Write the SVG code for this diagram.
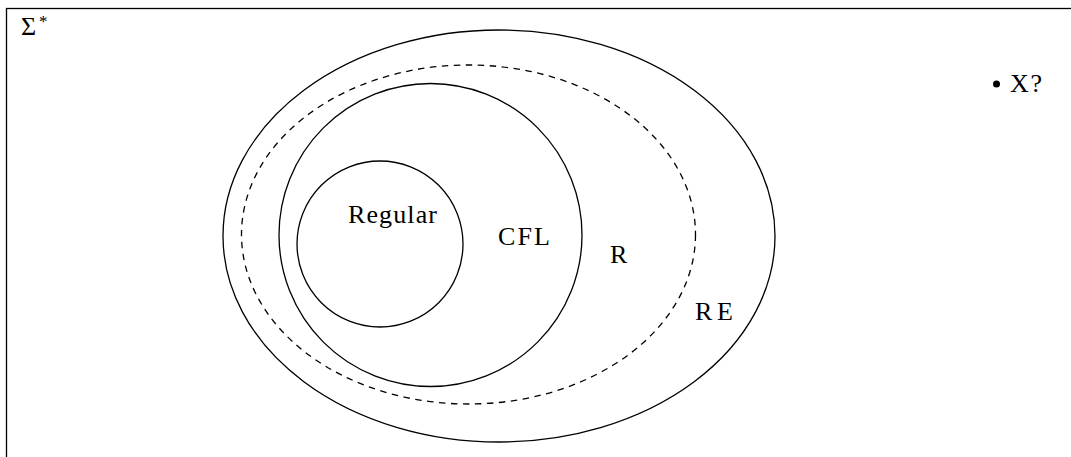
<svg xmlns="http://www.w3.org/2000/svg" width="1071" height="457" viewBox="0 0 1071 457">
<style>
.ln{fill:none;stroke:#000;stroke-width:1.3}
.dash{stroke-dasharray:6.5 5.5}
.t{font-family:"Liberation Serif","DejaVu Serif",serif;font-size:26px;fill:#000}
</style>
<rect width="1071" height="457" fill="#fff"/>
<rect id="universe" class="ln" x="6.5" y="8.5" width="1080" height="470"/>
<g id="sigma-label"><text class="t" x="21" y="35" textLength="17">Σ</text><text class="t" x="39" y="27" style="font-size:17px">*</text></g>
<g id="RE"><ellipse class="ln" cx="499" cy="236" rx="276" ry="206"/><text class="t" x="695" y="320" textLength="38">RE</text></g>
<g id="R"><ellipse class="ln dash" cx="468.5" cy="234.5" rx="227" ry="169.5"/><text class="t" x="610" y="263" textLength="19">R</text></g>
<g id="CFL"><circle class="ln" cx="430.5" cy="235" r="151.5"/><text class="t" x="498" y="245" textLength="52">CFL</text></g>
<g id="Regular"><circle class="ln" cx="380" cy="244" r="83"/><text class="t" x="348" y="223" textLength="89">Regular</text></g>
<g id="X"><circle cx="996.5" cy="84" r="3.5" fill="#000"/><text class="t" x="1010" y="92" textLength="32">X?</text></g>
</svg>
